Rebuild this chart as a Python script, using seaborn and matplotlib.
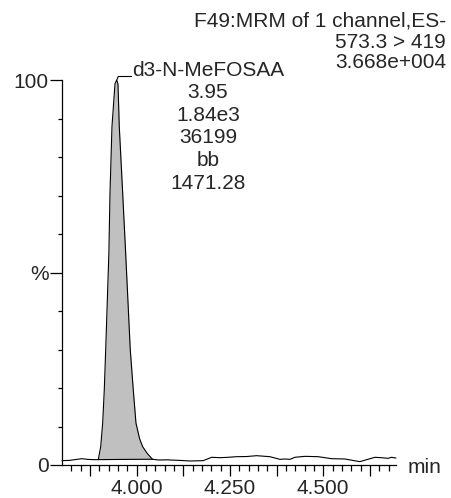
import numpy as np
import pandas as pd
import matplotlib
matplotlib.use("Agg")
import matplotlib.pyplot as plt
import seaborn as sns

# ---- data ----
times = [3.800, 3.820, 3.853, 3.8705, 3.888, 3.8972,
         3.9037, 3.9090, 3.9133, 3.9171, 3.9256, 3.9286, 3.9339, 3.9420, 3.9465,
         3.9500, 3.9535, 3.9626, 3.9706, 3.9829, 3.9910, 3.9982, 4.0080, 4.0162,
         4.0285, 4.0424, 4.058, 4.0848, 4.0893, 4.115, 4.1429, 4.1786, 4.201,
         4.2232, 4.245, 4.268, 4.295, 4.3215, 4.357, 4.384, 4.3973, 4.4107, 4.424,
         4.451, 4.4866, 4.5224, 4.558, 4.598, 4.6384, 4.656, 4.674, 4.683, 4.695]
intensity = [1.13, 1.20, 1.64, 1.45, 1.38, 1.40,
             4.75, 10.9, 19.5, 30.0, 55.0, 70.6, 87.9, 99.0, 100.0,
             99.0, 87.9, 70.6, 55.0, 30.0, 19.5, 10.9, 6.8, 4.75,
             3.0, 1.50, 1.30, 1.35, 1.30, 1.20, 1.04, 1.13, 2.00,
             1.90, 2.00, 2.16, 2.20, 2.42, 2.16, 1.47, 1.56, 1.47, 2.00,
             2.25, 2.16, 1.64, 1.56, 0.87, 2.00, 1.90, 1.73, 2.00, 1.80]
peak_start, peak_end = 3.8972, 4.0424
header_lines = ["F49:MRM of 1 channel,ES-", "573.3 > 419", "3.668e+004"]
peak_lines = ["d3-N-MeFOSAA", "3.95", "1.84e3", "36199", "bb", "1471.28"]
x_major = [3.875, 4.000, 4.125, 4.250, 4.375, 4.500, 4.625]
x_labels = ["", "4.000", "", "4.250", "", "4.500", ""]
y_major = [0, 50, 100]
y_labels = ["0", "%", "100"]

df = pd.DataFrame({"time": times, "pct": intensity})

sns.set_style("ticks")
plt.rcParams["font.family"] = ["Liberation Sans", "DejaVu Sans"]
FS = 15

W, H = 451, 498
fig = plt.figure(figsize=(W / 100, H / 100), dpi=100)
ax = fig.add_axes([62 / W, 1 - 465 / H, 334 / W, 385 / H])

sns.lineplot(data=df, x="time", y="pct", ax=ax, color="black", linewidth=0.8,
             estimator=None, sort=False, clip_on=False)

# integrated peak area
t = np.array(times)
y = np.array(intensity)
mask = (t >= peak_start) & (t <= peak_end)
b0 = y[t == peak_start][0]
b1 = y[t == peak_end][0]
base = b0 + (t[mask] - peak_start) * (b1 - b0) / (peak_end - peak_start)
ax.fill_between(t[mask], base, y[mask], color="#c0c0c0", linewidth=0, zorder=1)
ax.plot([peak_start, peak_end], [b0, b1], color="black", linewidth=0.8)

ax.set_xlim(3.80, 4.695)
ax.set_ylim(0, 100)
ax.set_xlabel("")
ax.set_ylabel("")
sns.despine(ax=ax)
for s in ("left", "bottom"):
    ax.spines[s].set_linewidth(0.9)
    ax.spines[s].set_color("black")

ax.set_xticks(x_major)
ax.set_xticklabels(x_labels, fontsize=FS)
ax.set_xticks(np.arange(3.825, 4.695, 0.025), minor=True)
ax.set_yticks(y_major)
ax.set_yticklabels(y_labels, fontsize=FS)
ax.set_yticks(np.arange(10, 100, 10), minor=True)
ax.tick_params(axis="x", which="major", length=8, width=0.9, pad=2, color="black")
ax.tick_params(axis="x", which="minor", length=4.3, width=0.9, color="black")
ax.tick_params(axis="y", which="major", length=9, width=0.9, pad=0.5, color="black")
ax.tick_params(axis="y", which="minor", length=2.6, width=0.9, color="black")

# axis unit label
fig.text(408 / W, 1 - 467 / H, "min", fontsize=FS, ha="left", va="center")

# header text
for i, s in enumerate(header_lines):
    fig.text(446 / W, 1 - (21 + 21 * i) / H, s, fontsize=FS, ha="right", va="center")

# peak label block with leader
apex_i = int(np.argmax(y))
apex_t, apex_y = t[apex_i], y[apex_i]
px = ax.transData.transform((apex_t, apex_y))
lead = np.array([[px[0] + 0.3, px[1] + 0.5], [px[0] + 1.6, px[1] + 3.5], [px[0] + 15, px[1] + 3.5]])
ax.plot(*ax.transData.inverted().transform(lead).T, color="black", linewidth=0.8, clip_on=False)
for i, s in enumerate(peak_lines):
    fig.text(208 / W, 1 - (70 + 22.6 * i) / H, s, fontsize=FS, ha="center", va="center")

fig.savefig("out.png", dpi=100)
